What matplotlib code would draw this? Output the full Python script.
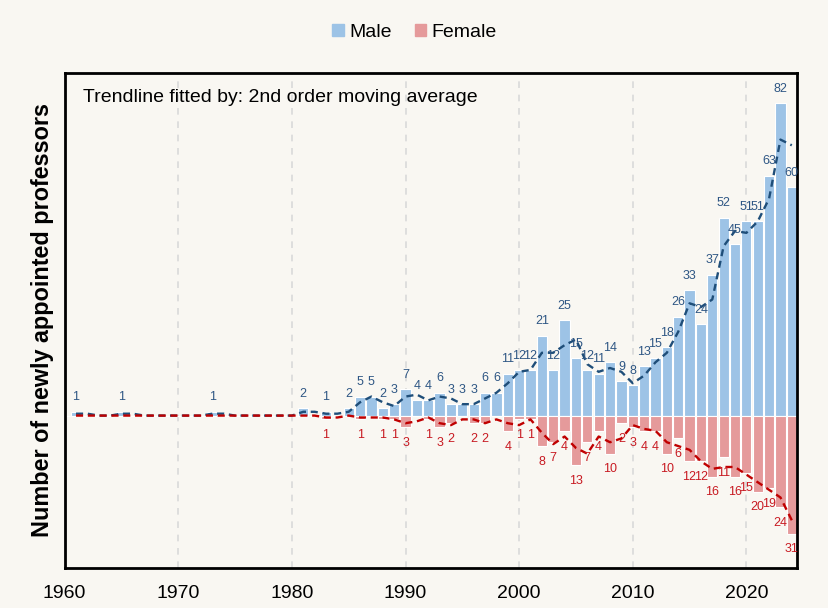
import numpy as np
import matplotlib
matplotlib.use('Agg')
import matplotlib.pyplot as plt
from matplotlib.patches import Patch

plt.rcParams['font.family'] = ['Liberation Sans', 'DejaVu Sans']

# 年（1960〜2024）
years = list(range(1960, 2025))

# 男性の新任教授数（値が無い年は0）
male = [0, 1, 0, 0, 0, 1, 0, 0, 0, 0,      # 1960-1969
        0, 0, 0, 1, 0, 0, 0, 0, 0, 0,      # 1970-1979
        0, 2, 0, 1, 0, 2, 5, 5, 2, 3,      # 1980-1989
        7, 4, 4, 6, 3, 3, 3, 6, 6, 11,     # 1990-1999
        12, 12, 21, 12, 25, 15, 12, 11, 14, 9,   # 2000-2009
        8, 13, 15, 18, 26, 33, 24, 37, 52, 45,   # 2010-2019
        51, 51, 63, 82, 60]                # 2020-2024

# 女性の新任教授数
female = [0, 0, 0, 0, 0, 0, 0, 0, 0, 0,
          0, 0, 0, 0, 0, 0, 0, 0, 0, 0,
          0, 0, 0, 1, 0, 0, 1, 0, 1, 1,
          3, 0, 1, 3, 2, 0, 2, 2, 0, 4,
          1, 1, 8, 7, 4, 13, 7, 4, 10, 2,
          3, 4, 4, 10, 6, 12, 12, 16, 11, 16,
          15, 20, 19, 24, 31]

x = np.array(years)
m = np.array(male)
f = np.array(female)

# 2区間移動平均（Excelの近似曲線と同じ）
m_ma = (m[1:] + m[:-1]) / 2
f_ma = (f[1:] + f[:-1]) / 2

bg = '#f9f7f2'
c_male = '#9dc3e6'
c_female = '#e59a9b'
t_male = '#2e5684'
t_female = '#c81a22'

fig = plt.figure(figsize=(8.29, 6.08), dpi=100, facecolor=bg)
ax = fig.add_axes([0.078, 0.066, 0.884, 0.814], facecolor=bg)

# 棒グラフ
ax.bar(x, m, width=0.9, color=c_male, edgecolor='white', linewidth=0.8, zorder=2)
ax.bar(x, -f, width=0.9, color=c_female, edgecolor='white', linewidth=0.8, zorder=2)

# 近似曲線（点線）
ax.plot(x[1:], m_ma, color='#1f4e79', lw=1.7, ls=(0, (3, 2)), zorder=3)
ax.plot(x[1:], -f_ma, color='#c00000', lw=1.7, ls=(0, (3, 2)), zorder=3)

# データラベル
for xi, v in zip(x, m):
    if v > 0:
        ax.annotate(str(v), (xi, v), xytext=(0, 6), textcoords='offset points',
                    ha='center', va='bottom', fontsize=9, color=t_male, zorder=4)
for xi, v in zip(x, f):
    if v > 0:
        ax.annotate(str(v), (xi, -v), xytext=(0, -7), textcoords='offset points',
                    ha='center', va='top', fontsize=9, color=t_female, zorder=4)

ax.set_xlim(1960, 2024.5)
ax.set_ylim(-40, 90)
ax.set_xticks(range(1960, 2030, 10))
ax.tick_params(axis='x', length=0, labelsize=14, pad=12)
ax.set_yticks([])

for g in range(1970, 2030, 10):
    ax.axvline(g, color='#d9d9d9', lw=1.2, ls=(0, (4, 4)), zorder=1)

for s in ax.spines.values():
    s.set_linewidth(2)
    s.set_color('black')

ax.set_ylabel('Number of newly appointed professors', fontsize=16.8, fontweight='bold', labelpad=8)

ax.text(0.025, 0.951, 'Trendline fitted by: 2nd order moving average', transform=ax.transAxes,
        ha='left', va='center', fontsize=14)

handles = [Patch(color=c_male, label='Male'), Patch(color=c_female, label='Female')]
fig.legend(handles=handles, loc='upper center', bbox_to_anchor=(0.5, 0.99), ncol=2, frameon=False,
           fontsize=14, handlelength=0.6, handleheight=0.6, handletextpad=0.25, columnspacing=1.2)

fig.savefig('out.png', dpi=100, facecolor=bg)
